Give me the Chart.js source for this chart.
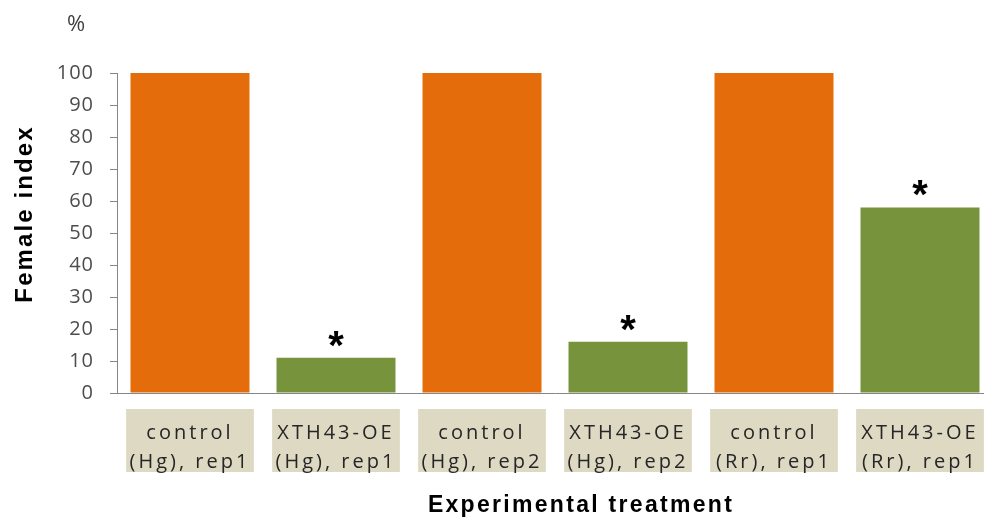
<!DOCTYPE html>
<html>
<head>
<meta charset="utf-8">
<script src="https://cdn.jsdelivr.net/npm/chart.js@4"></script>
<style>
  html, body { margin: 0; padding: 0; overflow: hidden; background: #fff; }
  #wrap { width: 1000px; height: 517px; position: relative; }
</style>
</head>
<body>
<div id="wrap"><canvas id="chart"></canvas></div>
<script>
var categories = [
  ['control', '(Hg), rep1'],
  ['XTH43-OE', '(Hg), rep1'],
  ['control', '(Hg), rep2'],
  ['XTH43-OE', '(Hg), rep2'],
  ['control', '(Rr), rep1'],
  ['XTH43-OE', '(Rr), rep1']
]
var femaleIndex = [100, 11, 100, 16, 100, 58]
var significance = ['', '*', '', '*', '', '*']
var yMin = 0
var yMax = 100
var yStep = 10

var orange = '#E46C0A'
var green = '#77933C'
var axisColor = '#868686'

var barColors = categories.map(function (c) {
  return c[0] === 'control' ? orange : green
})

// label boxes, asterisks and the free standing texts
// x labels are drawn wide (3px spacing), y ticks come later (z: 1) with 1px
var decor = {
  id: 'decor',
  beforeUpdate: function (chart) {
    chart.ctx.letterSpacing = '3px'
  },
  beforeDraw: function (chart) {
    var ctx = chart.ctx
    ctx.letterSpacing = '3px'
    var x = chart.scales.x
    var w = x.width / categories.length * 0.875
    ctx.save()
    ctx.fillStyle = '#DDD9C3'
    for (var i = 0; i < categories.length; i++) {
      var cx = x.getPixelForTick(i)
      ctx.fillRect(cx - w / 2, x.top + 16, w, 63)
    }
    ctx.restore()
  },
  afterDatasetsDraw: function (chart) {
    var ctx = chart.ctx
    var meta = chart.getDatasetMeta(0)
    ctx.save()
    ctx.letterSpacing = '0px'
    ctx.fillStyle = '#000'
    ctx.font = 'bold 40px "Liberation Sans"'
    ctx.textAlign = 'center'
    ctx.textBaseline = 'alphabetic'
    meta.data.forEach(function (bar, i) {
      if (significance[i]) ctx.fillText(significance[i], bar.x, bar.y + 1)
    })
    ctx.restore()
    ctx.letterSpacing = '1px'
  },
  afterDraw: function (chart) {
    var ctx = chart.ctx
    ctx.save()
    ctx.fillStyle = '#404040'
    ctx.letterSpacing = '0px'
    ctx.font = '22px "Open Sans"'
    ctx.textAlign = 'center'
    ctx.textBaseline = 'middle'
    ctx.fillText('%', 76, 25)

    ctx.fillStyle = '#000'
    ctx.font = 'bold 23px "Liberation Sans"'
    ctx.letterSpacing = '2.3px'
    ctx.textBaseline = 'alphabetic'
    ctx.fillText('Experimental treatment', 581, 512)

    ctx.font = 'bold 24px "Liberation Sans"'
    ctx.letterSpacing = '2.1px'
    ctx.translate(32, 214)
    ctx.rotate(-Math.PI / 2)
    ctx.fillText('Female index', 0, 0)
    ctx.restore()
  }
}

new Chart(document.getElementById('chart'), {
  type: 'bar',
  data: {
    labels: categories,
    datasets: [{
      data: femaleIndex,
      backgroundColor: barColors,
      borderWidth: 0,
      categoryPercentage: 1,
      barPercentage: 0.815
    }]
  },
  options: {
    responsive: true,
    maintainAspectRatio: false,
    animation: false,
    layout: { padding: { top: 73, right: 7, bottom: 0, left: 0 } },
    plugins: {
      legend: { display: false },
      tooltip: { enabled: false }
    },
    scales: {
      x: {
        grid: { display: false },
        border: { display: true, color: axisColor, width: 1 },
        ticks: {
          color: '#262626',
          padding: 18,
          maxRotation: 0,
          autoSkip: false,
          font: { family: 'Open Sans', size: 20, lineHeight: 1.45 }
        },
        afterFit: function (s) { s.height = 124 }
      },
      y: {
        min: yMin,
        max: yMax,
        grid: { drawOnChartArea: false, drawTicks: true, tickLength: 7, color: axisColor },
        border: { display: true, color: axisColor, width: 1 },
        ticks: {
          stepSize: yStep,
          color: '#4d4d4d',
          padding: 16,
          z: 1,
          font: { family: 'Open Sans', size: 20 }
        },
        afterFit: function (s) { s.width = 117 }
      }
    }
  },
  plugins: [decor]
})
</script>
</body>
</html>
